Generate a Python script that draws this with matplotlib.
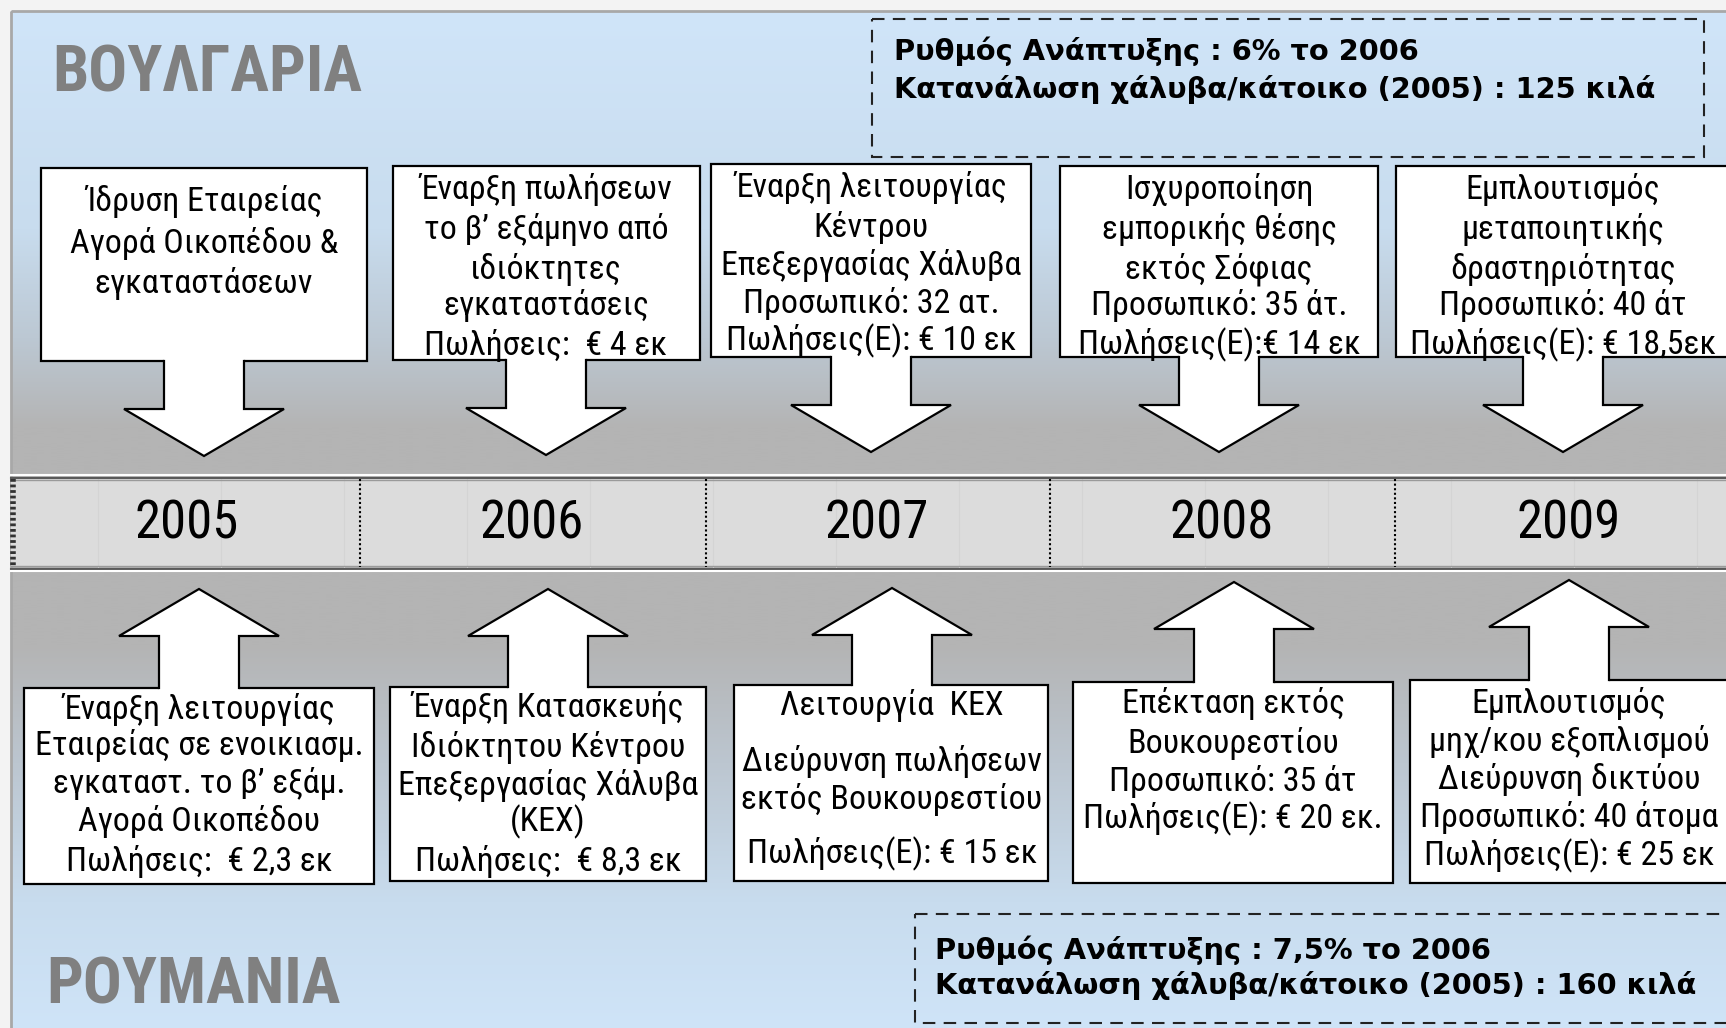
import numpy as np
import matplotlib
matplotlib.use("Agg")
import matplotlib.pyplot as plt
from matplotlib.patches import Rectangle, Polygon
from matplotlib.colors import to_rgb

# --- content -------------------------------------------------------------
years = ["2005", "2006", "2007", "2008", "2009"]

bulgaria_title = "ΒΟΥΛΓΑΡΙΑ"
romania_title = "ΡΟΥΜΑΝΙΑ"

bulgaria_stats = ["Ρυθμός Ανάπτυξης : 6% το 2006",
                  "Κατανάλωση χάλυβα/κάτοικο (2005) : 125 κιλά"]
romania_stats = ["Ρυθμός Ανάπτυξης : 7,5% το 2006",
                 "Κατανάλωση χάλυβα/κάτοικο (2005) : 160 κιλά"]

bulgaria_events = [
    ["Ίδρυση Εταιρείας", "Αγορά Οικοπέδου &", "εγκαταστάσεων"],
    ["Έναρξη πωλήσεων", "το β’ εξάμηνο από", "ιδιόκτητες", "εγκαταστάσεις",
     "Πωλήσεις:  € 4 εκ"],
    ["Έναρξη λειτουργίας", "Κέντρου", "Επεξεργασίας Χάλυβα",
     "Προσωπικό: 32 ατ.", "Πωλήσεις(Ε): € 10 εκ"],
    ["Ισχυροποίηση", "εμπορικής θέσης", "εκτός Σόφιας", "Προσωπικό: 35 άτ.",
     "Πωλήσεις(Ε):€ 14 εκ"],
    ["Εμπλουτισμός", "μεταποιητικής", "δραστηριότητας", "Προσωπικό: 40 άτ",
     "Πωλήσεις(Ε): € 18,5εκ"],
]
romania_events = [
    ["Έναρξη λειτουργίας", "Εταιρείας σε ενοικιασμ.", "εγκαταστ. το β’ εξάμ.",
     "Αγορά Οικοπέδου", "Πωλήσεις:  € 2,3 εκ"],
    ["Έναρξη Κατασκευής", "Ιδιόκτητου Κέντρου", "Επεξεργασίας Χάλυβα", "(ΚΕΧ)",
     "Πωλήσεις:  € 8,3 εκ"],
    ["Λειτουργία  ΚΕΧ", "Διεύρυνση πωλήσεων", "εκτός Βουκουρεστίου",
     "Πωλήσεις(Ε): € 15 εκ"],
    ["Επέκταση εκτός", "Βουκουρεστίου", "Προσωπικό: 35 άτ",
     "Πωλήσεις(Ε): € 20 εκ."],
    ["Εμπλουτισμός", "μηχ/κου εξοπλισμού", "Διεύρυνση δικτύου",
     "Προσωπικό: 40 άτομα", "Πωλήσεις(Ε): € 25 εκ"],
]

# --- layout (pixel space of a 1726x1028 canvas) --------------------------
W, H = 1726, 1028
year_x = [187, 532, 877, 1222, 1569]
sep_x = [360, 706, 1050, 1395]
band_top, band_bot = 479, 567

top_boxes = [(41, 168, 367, 361), (393, 166, 700, 360), (711, 164, 1031, 357),
             (1060, 166, 1378, 357), (1396, 166, 1745, 357)]
top_text_x = [204, 546, 871, 1219, 1563]
top_line_y = [[201, 243, 283], [190, 230, 269, 306, 345],
              [188, 227, 265, 304, 341], [190, 230, 269, 306, 345],
              [190, 230, 269, 306, 345]]
down_tip_y = [456, 455, 452, 452, 452]

bot_boxes = [(24, 688, 374, 884), (390, 687, 706, 881), (734, 685, 1048, 881),
             (1073, 682, 1393, 883), (1410, 680, 1745, 883)]
bot_text_x = [199, 548, 892, 1233, 1569]
bot_line_y = [[709, 746, 783, 821, 861], [708, 747, 785, 822, 861],
              [706, 761, 799, 854], [704, 743, 782, 819],
              [703, 742, 779, 818, 856]]
up_tip = [(199, 589), (548, 589), (892, 588), (1234, 582), (1569, 580)]

shaft_hw, head_hw, head_len = 40, 80, 47

BODY = ["Roboto Condensed", "DejaVu Sans"]
BOLD = ["DejaVu Sans"]
BODY_SIZE = 24.5

fig = plt.figure(figsize=(W / 100, H / 100), dpi=100, facecolor="#f3f3f3")
ax = fig.add_axes([0, 0, 1, 1])

# background gradient of the panel
stops = [(0, "#d0e5f9"), (220, "#c8dcee"), (330, "#bcc8d3"), (420, "#b4b4b4"),
         (640, "#b4b4b4"), (760, "#bcc6d0"), (900, "#c8dcee"), (1028, "#cfe4f8")]
ys = np.arange(H)
sy = [s[0] for s in stops]
cols = np.array([to_rgb(s[1]) for s in stops])
grad = np.stack([np.interp(ys, sy, cols[:, i]) for i in range(3)], axis=1)
ax.imshow(grad[:, None, :], extent=[11, W, H, 11], aspect="auto",
          interpolation="bilinear", zorder=0)
ax.add_patch(Rectangle((11, 11), W, H, fill=False, ec="#a8a8a8", lw=2, zorder=1))
ax.set_xlim(0, W)
ax.set_ylim(H, 0)
ax.axis("off")

# timeline band
ax.add_patch(Rectangle((11, band_top), W, band_bot - band_top, fc="#dcdcdc",
                       ec="none", zorder=2))
for x in np.arange(98, W, 123):
    ax.plot([x, x], [band_top, band_bot], color="#d4d4d4", lw=0.8, zorder=2)
for y, c, lw in [(band_top - 4, "white", 1.5), (band_top - 1.5, "#5a5a5a", 1.5),
                 (band_top + 1, "#9a9a9a", 1),
                 (band_bot - 1, "#9a9a9a", 1), (band_bot + 1.5, "#5a5a5a", 1.5),
                 (band_bot + 4, "white", 1.5)]:
    ax.plot([11, W], [y, y], color=c, lw=lw, zorder=3)
for x in sep_x:
    ax.plot([x, x], [band_top, band_bot], color="black", lw=1.5,
            ls=(0, (1, 1.2)), zorder=3)
ax.plot([13, 13], [band_top, band_bot], color="#333333", lw=4,
        ls=(0, (0.5, 0.5)), zorder=3)
for x, yr in zip(year_x, years):
    ax.text(x, (band_top + band_bot) / 2 + 1, yr, ha="center", va="center",
            fontsize=38, family=BODY, color="black", zorder=4)


def event_box(box, cx, line_ys, lines):
    x0, y0, x1, y1 = box
    ax.add_patch(Rectangle((x0, y0), x1 - x0, y1 - y0, fc="white", ec="black",
                           lw=1.6, zorder=5))
    for ly, t in zip(line_ys, lines):
        ax.text(cx, ly, t, ha="center", va="center", fontsize=BODY_SIZE,
                family=BODY, color="black", zorder=8)


def block_arrow(cx, base, tip, direction):
    # direction +1 points down the page, -1 points up
    hy = tip - direction * head_len
    pts = [(cx - shaft_hw, base), (cx - shaft_hw, hy), (cx - head_hw, hy),
           (cx, tip), (cx + head_hw, hy), (cx + shaft_hw, hy), (cx + shaft_hw, base)]
    fill = [(cx - shaft_hw, base - direction * 2)] + pts[1:-1] + \
           [(cx + shaft_hw, base - direction * 2)]
    ax.add_patch(Polygon(fill, closed=True, fc="white", ec="none", zorder=6))
    xs, ys_ = zip(*pts)
    ax.plot(xs, ys_, color="black", lw=1.6, zorder=7, solid_joinstyle="miter")


for i in range(5):
    event_box(top_boxes[i], top_text_x[i], top_line_y[i], bulgaria_events[i])
    block_arrow(top_text_x[i], top_boxes[i][3], down_tip_y[i], 1)
    event_box(bot_boxes[i], bot_text_x[i], bot_line_y[i], romania_events[i])
    block_arrow(up_tip[i][0], bot_boxes[i][1], up_tip[i][1], -1)

# country titles
ax.text(52, 74, bulgaria_title, ha="left", va="center", fontsize=46.5,
        fontweight="bold", family=BODY, color="#808080", zorder=4)
ax.text(46, 986, romania_title, ha="left", va="center", fontsize=46.5,
        fontweight="bold", family=BODY, color="#808080", zorder=4)

# dashed statistics boxes
ax.add_patch(Rectangle((872, 19), 1704 - 872, 157 - 19, fill=False, ec="#222222",
                       lw=1.5, ls=(0, (6, 4)), zorder=4))
ax.add_patch(Rectangle((915, 914), 1745 - 915, 1023 - 914, fill=False,
                       ec="#222222", lw=1.5, ls=(0, (6, 4)), zorder=4))
for ly, t in zip([51, 89], bulgaria_stats):
    ax.text(894, ly, t, ha="left", va="center", fontsize=20.8, fontweight="bold",
            family=BOLD, color="black", zorder=4)
for ly, t in zip([950, 986], romania_stats):
    ax.text(935, ly, t, ha="left", va="center", fontsize=20.8, fontweight="bold",
            family=BOLD, color="black", zorder=4)

fig.savefig("out.png", dpi=100, facecolor=fig.get_facecolor())
